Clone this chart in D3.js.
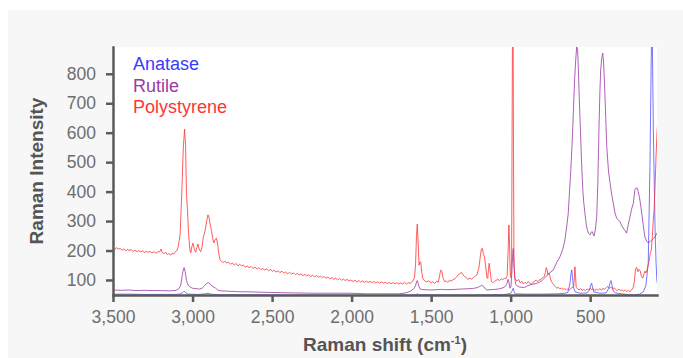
<!DOCTYPE html>
<html lang="en">
<head>
<meta charset="UTF-8">
<title>Raman spectra</title>
<script src="https://d3js.org/d3.v7.min.js"></script>
<style>
  body { margin: 0; background: #fff; }
  svg { font-family: "Liberation Sans", Arial, sans-serif; display: block; }
  .tick text { fill: #6e6e6e; font-size: 17.5px; }
  .domain, .tick line { stroke: #5b5b5b; stroke-width: 2.5px; }
</style>
</head>
<body>
<svg width="683" height="358"></svg>
<script>
// series: [Raman shift (cm-1), intensity]
const anatase = [
  [3500,52],[3400,52],[3300,51],[3200,51],[3100,51],[3075,53],[3060,58],[3053,62],[3045,58],[3030,52],
  [2960,51],[2920,53],[2902,55],[2885,52],[2850,50],[2700,50],[2500,49],[2300,49],[2000,48],[1800,48],
  [1600,49],[1590,52],[1587,53],[1580,50],[1400,49],[1200,49],[1050,50],[1000,54],[990,64],[984,72],
  [978,60],[970,53],[900,52],[800,52],[700,53],[660,55],[640,58],[627,89],[620,125],[616,134],[611,110],
  [606,77],[595,60],[564,55],[520,56],[505,66],[495,84],[491,89],[486,78],[478,60],[440,55],[400,56],
  [385,70],[374,92],[369,98],[364,85],[355,62],[340,56],[300,53],[260,50],[229,49],[190,52],[166,60],
  [150,80],[135,157],[124,497],[116,860],[113,960],[109,900],[103,609],[97,420],[92,270],[86,160],[81,100],[75,80]
];

const rutile = [
  [3500,66],[3450,65],[3400,66],[3350,64],[3300,65],[3250,64],[3200,64],[3150,63],[3110,64],[3090,68],
  [3075,80],[3065,115],[3057,138],[3053,142],[3046,128],[3038,98],[3028,82],[3015,76],[3000,72],[2985,71],
  [2970,70],[2955,69],[2940,72],[2925,80],[2912,88],[2902,91],[2890,86],[2878,80],[2866,76],[2855,72],
  [2840,65],[2820,63],[2780,62],[2740,61],[2700,60],[2650,60],[2600,59],[2535,58],[2450,57],[2350,56],
  [2250,55],[2150,55],[2011,55],[1900,53],[1800,53],[1700,53],[1660,56],[1630,62],[1610,70],[1598,80],
  [1591,96],[1586,98],[1578,80],[1570,70],[1560,68],[1540,67],[1500,66],[1434,68],[1400,67],[1350,68],
  [1320,69],[1280,70],[1240,71],[1210,74],[1195,78],[1182,82],[1170,78],[1160,70],[1150,66],[1130,67],
  [1100,68],[1070,70],[1040,75],[1025,85],[1016,102],[1010,90],[1004,72],[998,78],[993,120],[988,180],
  [984,207],[980,170],[975,110],[968,85],[960,80],[945,76],[930,75],[912,75],[895,80],[880,83],
  [860,86],[840,88],[820,92],[800,100],[780,110],[760,122],[732,134],[710,160],[690,179],[672,205],
  [659,236],[648,280],[638,326],[630,400],[623,462],[614,560],[606,666],[598,780],[591,847],[585,892],
  [579,881],[574,810],[569,722],[561,600],[554,496],[546,400],[540,360],[533,326],[525,290],[518,270],
  [510,258],[501,253],[494,262],[487,264],[481,255],[476,249],[468,270],[459,315],[452,430],[445,609],
  [439,740],[434,813],[427,855],[421,870],[416,840],[411,779],[404,680],[396,553],[385,470],[375,430],
  [365,390],[355,361],[345,330],[334,310],[324,304],[313,298],[302,285],[292,276],[282,268],[271,259],
  [262,285],[250,314],[240,340],[229,360],[219,406],[212,412],[204,412],[198,400],[191,383],[183,355],
  [176,327],[166,285],[156,246],[145,232],[135,226],[124,230],[113,236],[103,240],[92,246],[82,258],[75,263]
];

const polystyrene = [
  [3500,208],[3488,203],[3479,210],[3466,205],[3455,207],[3441,201],[3433,206],[3420,199],[3408,204],[3399,200],
  [3385,203],[3371,197],[3362,201],[3348,196],[3339,200],[3325,195],[3313,199],[3304,193],[3290,198],[3281,194],
  [3267,197],[3255,192],[3243,196],[3230,191],[3219,195],[3206,196],[3198,205],[3190,193],[3178,190],[3168,194],
  [3158,186],[3148,190],[3138,184],[3128,191],[3118,188],[3108,196],[3098,200],[3090,213],[3078,255],[3068,390],
  [3058,550],[3050,612],[3044,560],[3038,390],[3032,340],[3025,260],[3017,205],[3011,192],[3004,214],[2997,225],
  [2989,205],[2980,194],[2973,210],[2966,222],[2958,205],[2949,196],[2941,210],[2932,245],[2921,268],[2911,300],
  [2903,321],[2896,312],[2888,286],[2881,268],[2873,240],[2866,226],[2858,238],[2850,242],[2842,222],[2835,190],
  [2827,168],[2816,162],[2806,159],[2797,164],[2786,157],[2775,161],[2761,153],[2752,158],[2737,151],[2726,156],
  [2714,148],[2703,153],[2690,147],[2681,151],[2667,143],[2655,148],[2644,141],[2631,146],[2619,139],[2608,144],
  [2594,137],[2583,142],[2570,135],[2560,139],[2546,134],[2534,138],[2522,131],[2509,136],[2497,129],[2488,133],
  [2474,127],[2462,131],[2451,125],[2438,130],[2425,123],[2415,127],[2401,121],[2390,126],[2377,120],[2365,124],
  [2354,118],[2341,122],[2329,117],[2319,121],[2305,115],[2293,119],[2282,114],[2269,118],[2257,112],[2246,116],
  [2232,111],[2221,115],[2209,109],[2196,113],[2184,108],[2174,112],[2160,106],[2148,110],[2137,104],[2124,108],
  [2112,102],[2102,106],[2088,101],[2076,105],[2064,99],[2051,103],[2040,98],[2029,102],[2015,97],[2004,100],
  [1991,95],[1979,99],[1968,94],[1955,98],[1943,93],[1933,97],[1919,92],[1907,96],[1896,92],[1883,95],
  [1871,91],[1861,95],[1847,90],[1835,94],[1824,89],[1811,93],[1799,89],[1789,92],[1775,88],[1763,92],
  [1752,87],[1739,91],[1727,87],[1717,91],[1703,86],[1691,90],[1680,87],[1667,92],[1655,86],[1644,91],
  [1630,88],[1622,94],[1612,98],[1604,110],[1598,150],[1592,250],[1587,290],[1582,230],[1576,150],[1570,162],
  [1565,160],[1560,130],[1552,105],[1543,98],[1530,94],[1515,97],[1500,90],[1490,94],[1478,88],[1465,96],
  [1455,92],[1448,110],[1440,134],[1432,128],[1424,105],[1415,94],[1405,97],[1395,92],[1385,99],[1375,96],
  [1362,101],[1350,105],[1340,110],[1330,118],[1320,120],[1310,126],[1300,118],[1290,112],[1280,108],[1268,102],
  [1255,106],[1245,103],[1235,108],[1225,112],[1212,118],[1200,140],[1192,175],[1184,205],[1178,208],[1172,190],
  [1165,180],[1158,150],[1150,110],[1144,105],[1139,140],[1135,157],[1129,130],[1121,95],[1112,90],[1100,96],
  [1090,99],[1080,102],[1070,98],[1060,104],[1050,101],[1040,106],[1030,104],[1022,115],[1016,200],[1011,287],
  [1007,220],[1003,130],[998,108],[994,170],[991,600],[988,1000],[985,1000],[982,500],[979,150],[974,110],
  [968,100],[960,96],[950,102],[940,90],[930,95],[920,86],[910,92],[900,88],[890,94],[880,90],
  [870,85],[860,92],[850,96],[840,99],[830,95],[818,100],[808,103],[800,108],[794,110],[788,112],
  [782,125],[776,142],[771,135],[766,118],[760,124],[754,115],[748,100],[740,92],[730,84],[720,78],
  [710,72],[700,75],[690,70],[680,73],[670,68],[660,71],[650,66],[640,70],[630,67],[620,72],
  [610,75],[603,80],[599,112],[596,145],[592,112],[588,75],[580,70],[570,66],[560,71],[550,65],
  [540,68],[530,64],[520,70],[510,66],[500,72],[490,67],[480,70],[470,64],[460,69],[450,65],
  [440,70],[430,66],[420,71],[410,68],[400,74],[390,78],[380,72],[370,76],[360,70],[350,73],
  [340,68],[330,64],[320,69],[310,63],[300,67],[290,62],[280,66],[270,61],[260,64],[250,60],
  [240,66],[230,74],[222,95],[215,138],[208,143],[200,128],[194,136],[186,132],[178,112],[170,106],
  [163,118],[156,130],[150,124],[143,134],[136,150],[128,170],[122,190],[116,202],[110,240],[104,300],
  [98,338],[92,420],[86,520],[80,600],[75,640]
];

const xTicks = [3500, 3000, 2500, 2000, 1500, 1000, 500];
const yTicks = [100, 200, 300, 400, 500, 600, 700, 800];
const seriesNames = ["Anatase", "Rutile", "Polystyrene"];
const seriesColors = ["#3b3bff", "#9a3aa5", "#ff3535"];

const svg = d3.select("svg");
const margin = { left: 113, right: 26, top: 47, bottom: 63 };
const W = 683, H = 358;

// grey card + white plot area
svg.append("rect").attr("x", 8).attr("y", 10).attr("width", W - 8).attr("height", H - 10).attr("fill", "#f7f7f7");
svg.append("rect")
    .attr("x", margin.left).attr("y", margin.top)
    .attr("width", W - margin.left - margin.right)
    .attr("height", H - margin.top - margin.bottom)
    .attr("fill", "#fff");

const x = d3.scaleLinear().domain([3500, 80]).range([margin.left, W - margin.right]);
const y = d3.scaleLinear().domain([49, 891]).range([H - margin.bottom, margin.top]);

svg.append("clipPath").attr("id", "plot")
  .append("rect")
    .attr("x", margin.left).attr("y", margin.top)
    .attr("width", W - margin.left - margin.right)
    .attr("height", H - margin.top - margin.bottom);

const line = d3.line().x(d => x(d[0])).y(d => y(d[1]));

const series = [anatase, rutile, polystyrene];
const g = svg.append("g").attr("clip-path", "url(#plot)");
series.forEach((s, i) => {
    g.append("path")
        .datum(s)
        .attr("fill", "none")
        .attr("stroke", seriesColors[i])
        .attr("stroke-width", 1)
        .attr("stroke-opacity", i === 0 ? 0.7 : 0.8)
        .attr("stroke-linejoin", "round")
        .attr("d", line);
});

// axes
svg.append("g")
    .attr("transform", `translate(0,${H - margin.bottom})`)
    .call(d3.axisBottom(x).tickValues(xTicks).tickFormat(d3.format(",")).tickSize(7).tickPadding(9).tickSizeOuter(0));

svg.append("g")
    .attr("transform", `translate(${margin.left},0)`)
    .call(d3.axisLeft(y).tickValues(yTicks).tickSize(7).tickPadding(10).tickSizeOuter(0));

svg.selectAll(".domain").attr("stroke-linecap", "square");

// axis titles
svg.append("text")
    .attr("x", (margin.left + W - margin.right) / 2)
    .attr("y", 351)
    .attr("text-anchor", "middle")
    .attr("font-size", 19)
    .attr("font-weight", "bold")
    .attr("fill", "#555")
    .html('Raman shift (cm<tspan dy="-7" font-size="11">-1</tspan><tspan dy="7">)</tspan>');

svg.append("text")
    .attr("transform", `translate(43,${(margin.top + H - margin.bottom) / 2}) rotate(-90)`)
    .attr("text-anchor", "middle")
    .attr("font-size", 19)
    .attr("font-weight", "bold")
    .attr("fill", "#555")
    .text("Raman Intensity");

// legend
svg.append("g").selectAll("text")
    .data(seriesNames)
    .join("text")
    .attr("x", 133)
    .attr("y", (d, i) => 70 + i * 21.7)
    .attr("font-size", 18)
    .attr("fill", (d, i) => seriesColors[i])
    .text(d => d);
</script>
</body>
</html>
